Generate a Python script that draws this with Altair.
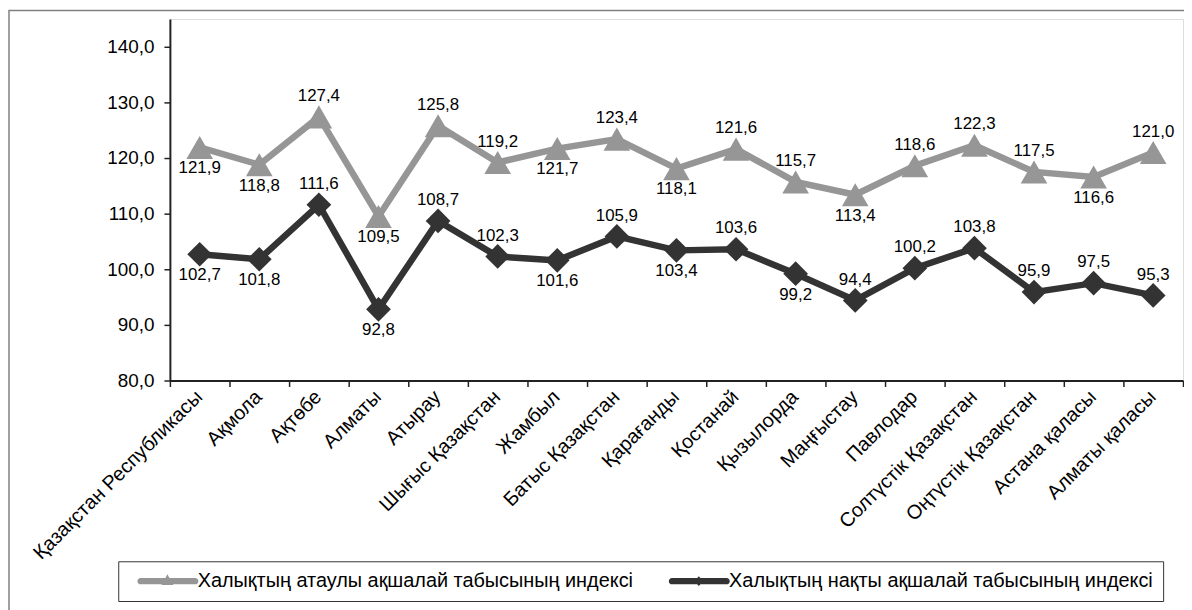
import altair as alt
import pandas as pd

regions = [
    "Қазақстан Республикасы", "Ақмола", "Ақтөбе", "Алматы", "Атырау",
    "Шығыс Қазақстан", "Жамбыл", "Батыс Қазақстан", "Қарағанды", "Қостанай",
    "Қызылорда", "Маңғыстау", "Павлодар", "Солтүстік Қазақстан",
    "Оңтүстік Қазақстан", "Астана қаласы", "Алматы қаласы",
]
nominal_index = [121.9, 118.8, 127.4, 109.5, 125.8, 119.2, 121.7, 123.4, 118.1,
                 121.6, 115.7, 113.4, 118.6, 122.3, 117.5, 116.6, 121.0]
real_index = [102.7, 101.8, 111.6, 92.8, 108.7, 102.3, 101.6, 105.9, 103.4,
              103.6, 99.2, 94.4, 100.2, 103.8, 95.9, 97.5, 95.3]
nominal_label_side = ["below", "below", "above", "below", "above", "above", "below",
                      "above", "below", "above", "above", "below", "above", "above",
                      "above", "below", "above"]
real_label_side = ["below", "below", "above", "below", "above", "above", "below",
                   "above", "below", "above", "below", "above", "above", "above",
                   "above", "above", "above"]
series_names = ["Халықтың атаулы ақшалай табысының индексі",
                "Халықтың нақты ақшалай табысының индексі"]
series_colors = ["#969696", "#333333"]
series_shapes = ["triangle-up", "diamond"]
series_sizes = [720, 620]
y_ticks = [80, 90, 100, 110, 120, 130, 140]

FONT = "Liberation Sans"

rows = []
for i, r in enumerate(regions):
    rows.append(dict(region=r, series=series_names[0], value=nominal_index[i],
                     side=nominal_label_side[i], order=i))
    rows.append(dict(region=r, series=series_names[1], value=real_index[i],
                     side=real_label_side[i], order=i))
df = pd.DataFrame(rows)

x_enc = alt.X(
    "region:N", sort=regions,
    scale=alt.Scale(paddingInner=0, paddingOuter=0),
    axis=alt.Axis(title=None, labelAngle=-45, labelAlign="right", labelBaseline="top",
                  labelFontSize=20, labelFont=FONT, labelColor="#000",
                  tickBand="extent", tickSize=6, labelPadding=0, labelOffset=-8,
                  domainColor="#222", domainWidth=2, tickColor="#222", tickWidth=1.5,
                  labelLimit=400, labelOverlap=False),
)
y_enc = alt.Y(
    "value:Q",
    scale=alt.Scale(domain=[80, 145], nice=False, zero=False),
    axis=alt.Axis(title=None, values=y_ticks, grid=False,
                  labelExpr="replace(format(datum.value, '.1f'), '.', ',')",
                  labelFontSize=19, labelFont=FONT, labelColor="#000",
                  tickSize=6, labelPadding=10, domainColor="#222", domainWidth=2,
                  tickColor="#222", tickWidth=1.5),
)

base = alt.Chart(df)

layers = []
for i, name in enumerate(series_names):
    sub = base.transform_filter(alt.datum.series == name)
    layers.append(sub.mark_line(strokeWidth=6.5, color=series_colors[i]).encode(
        x=x_enc, y=y_enc, order=alt.Order("order:Q")))
for i, name in enumerate(series_names):
    sub = base.transform_filter(alt.datum.series == name)
    layers.append(sub.mark_point(filled=True, shape=series_shapes[i], size=series_sizes[i],
                                 opacity=1, color=series_colors[i]).encode(x=x_enc, y=y_enc))

lbl = base.transform_calculate(
    label="replace(format(datum.value, '.1f'), '.', ',')"
)
layers.append(lbl.transform_filter(alt.datum.side == "above").mark_text(
    dy=-21, fontSize=17, font=FONT, color="#000"
).encode(x=x_enc, y=y_enc, text="label:N"))
layers.append(lbl.transform_filter(alt.datum.side == "below").mark_text(
    dy=21, fontSize=17, font=FONT, color="#000"
).encode(x=x_enc, y=y_enc, text="label:N"))

# legend glyphs: line segment with marker (unit r = 10px), drawn to the right of centre
sym_nominal = ("M-1,0L-0.99,0Z "
               "M0.25,-0.32L5.75,-0.32A0.32,0.32 0 0 1 5.75,0.32L0.25,0.32A0.32,0.32 0 0 1 0.25,-0.32Z "
               "M2.35,0.4L2.95,-0.7L3.55,0.4Z")
sym_real = ("M-1,0L-0.99,0Z "
            "M0.25,-0.32L5.75,-0.32A0.32,0.32 0 0 1 5.75,0.32L0.25,0.32A0.32,0.32 0 0 1 0.25,-0.32Z "
            "M2.5,0L2.95,-0.5L3.4,0L2.95,0.5Z")

legend = alt.Legend(
    title=None, orient="none", legendX=-52, legendY=546, direction="horizontal",
    symbolSize=400, symbolOpacity=1, symbolStrokeWidth=0,
    labelFontSize=20, labelFont=FONT, labelColor="#000", labelLimit=600,
    labelOffset=50, columnPadding=26, padding=10, strokeColor="#333",
    fillColor="white",
)
legend_layer = base.mark_point(filled=True, opacity=0).encode(
    x=x_enc, y=y_enc,
    color=alt.Color("series:N", scale=alt.Scale(domain=series_names, range=series_colors),
                    legend=legend),
    shape=alt.Shape("series:N", scale=alt.Scale(domain=series_names,
                                                range=[sym_nominal, sym_real]),
                    legend=legend),
)

frame = alt.Chart(alt.Data(values=[{}])).mark_rect(
    fill="transparent", stroke="#808080", strokeWidth=1.5
).encode(x=alt.value(-162), x2=alt.value(1060), y=alt.value(-8.5), y2=alt.value(700))

chart = alt.layer(frame, *layers, legend_layer).properties(
    width=1020, height=364,
    autosize=alt.AutoSizeParams(type="none"),
    padding={"left": 163, "top": 9, "right": 1, "bottom": 229},
).configure_view(
    stroke="#808080", strokeWidth=2
).configure(font=FONT)

chart.save("out.html", embed_options={"renderer": "svg", "actions": False})
